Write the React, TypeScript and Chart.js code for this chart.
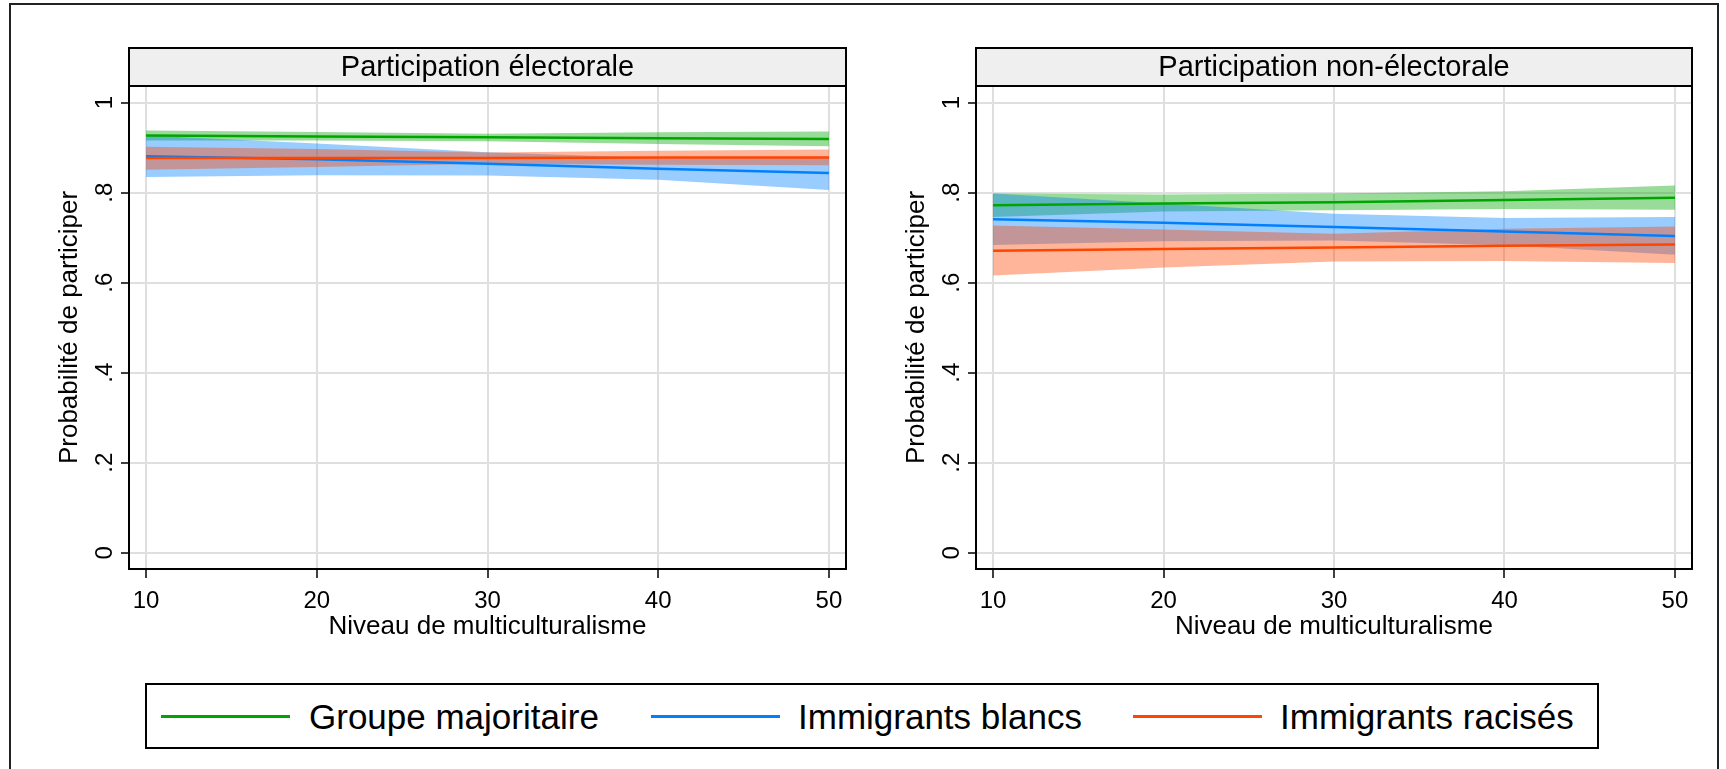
import React, { useEffect, useRef } from 'react';
import { Chart, registerables } from 'chart.js';

Chart.register(...registerables);

// ---------- data ----------
const xValues = [10, 20, 30, 40, 50];
const xTickLabels = ['10', '20', '30', '40', '50'];
const yTickValues = [0, 0.2, 0.4, 0.6, 0.8, 1];
const yTickLabels = ['0', '.2', '.4', '.6', '.8', '1'];
const seriesNames = ['Groupe majoritaire', 'Immigrants blancs', 'Immigrants racisés'];
const panelTitles = ['Participation électorale', 'Participation non-électorale'];
const xAxisTitle = 'Niveau de multiculturalisme';
const yAxisTitle = 'Probabilité de participer';

// Participation électorale
const elecMajEst = [0.927, 0.925, 0.923, 0.921, 0.919];
const elecMajLo = [0.916, 0.916, 0.914, 0.908, 0.903];
const elecMajHi = [0.938, 0.935, 0.931, 0.934, 0.936];
const elecBlaEst = [0.881, 0.874, 0.864, 0.853, 0.844];
const elecBlaLo = [0.835, 0.839, 0.838, 0.829, 0.806];
const elecBlaHi = [0.927, 0.909, 0.890, 0.877, 0.880];
const elecRacEst = [0.877, 0.877, 0.877, 0.878, 0.878];
const elecRacLo = [0.851, 0.857, 0.864, 0.862, 0.861];
const elecRacHi = [0.902, 0.897, 0.889, 0.893, 0.896];

// Participation non-électorale
const nonMajEst = [0.772, 0.776, 0.779, 0.784, 0.789];
const nonMajLo = [0.746, 0.758, 0.761, 0.764, 0.762];
const nonMajHi = [0.798, 0.796, 0.798, 0.803, 0.816];
const nonBlaEst = [0.741, 0.733, 0.724, 0.714, 0.704];
const nonBlaLo = [0.684, 0.692, 0.694, 0.683, 0.662];
const nonBlaHi = [0.798, 0.776, 0.753, 0.744, 0.746];
const nonRacEst = [0.671, 0.675, 0.678, 0.682, 0.685];
const nonRacLo = [0.616, 0.634, 0.647, 0.648, 0.644];
const nonRacHi = [0.727, 0.718, 0.709, 0.720, 0.725];

// ---------- styles ----------
const lineColors = ['rgb(0,165,0)', 'rgb(0,128,255)', 'rgb(255,69,0)'];
const bandColors = ['rgba(0,165,0,0.4)', 'rgba(0,128,255,0.4)', 'rgba(255,69,0,0.4)'];
const FONT = '"Liberation Sans", Arial, Helvetica, sans-serif';

Chart.defaults.font.family = FONT;
Chart.defaults.color = '#000';

type Series = { est: number[]; lo: number[]; hi: number[] };

const panels: { title: string; series: Series[]; left: number; width: number; padRight: number }[] = [
  {
    title: panelTitles[0],
    series: [
      { est: elecMajEst, lo: elecMajLo, hi: elecMajHi },
      { est: elecBlaEst, lo: elecBlaLo, hi: elecBlaHi },
      { est: elecRacEst, lo: elecRacLo, hi: elecRacHi },
    ],
    left: 0,
    width: 856,
    padRight: 10,
  },
  {
    title: panelTitles[1],
    series: [
      { est: nonMajEst, lo: nonMajLo, hi: nonMajHi },
      { est: nonBlaEst, lo: nonBlaLo, hi: nonBlaHi },
      { est: nonRacEst, lo: nonRacLo, hi: nonRacHi },
    ],
    left: 847,
    width: 860,
    padRight: 15,
  },
];

const CANVAS_H = 642;
const STRIP_TOP = 48;
const PLOT_TOP = 86;
const Y_SCALE_W = 129;
const X_SCALE_H = 73;

function stripPlugin(title: string) {
  return {
    id: 'strip',
    afterDraw(chart: any) {
      const { ctx, chartArea: a } = chart;
      ctx.save();
      ctx.strokeStyle = '#000';
      ctx.lineWidth = 2;
      ctx.strokeRect(a.left, a.top, a.right - a.left, a.bottom - a.top);
      ctx.fillStyle = '#efefef';
      ctx.fillRect(a.left, STRIP_TOP, a.right - a.left, a.top - STRIP_TOP);
      ctx.strokeRect(a.left, STRIP_TOP, a.right - a.left, a.top - STRIP_TOP);
      ctx.fillStyle = '#000';
      ctx.font = `29px ${FONT}`;
      ctx.textAlign = 'center';
      ctx.textBaseline = 'alphabetic';
      ctx.fillText(title, (a.left + a.right) / 2, 76);
      ctx.restore();
    },
  };
}

function Panel({ title, series, left, width, padRight }: { title: string; series: Series[]; left: number; width: number; padRight: number }) {
  const ref = useRef<HTMLCanvasElement | null>(null);
  useEffect(() => {
    if (!ref.current) return;
    const pts = (arr: number[]) => xValues.map((x, i) => ({ x, y: arr[i] }));
    const datasets: any[] = [];
    // lines (index 0 drawn last => on top)
    for (const k of [2, 1, 0]) {
      datasets.push({
        label: seriesNames[k],
        data: pts(series[k].est),
        borderColor: lineColors[k],
        borderWidth: 2.5,
        pointRadius: 0,
        fill: false,
        tension: 0,
      });
    }
    // confidence bands (green drawn first, then blue, then red)
    for (const k of [2, 1, 0]) {
      datasets.push({
        label: seriesNames[k] + ' hi',
        data: pts(series[k].hi),
        borderColor: 'rgba(0,0,0,0)',
        borderWidth: 0,
        pointRadius: 0,
        fill: '+1',
        backgroundColor: bandColors[k],
        tension: 0,
      });
      datasets.push({
        label: seriesNames[k] + ' lo',
        data: pts(series[k].lo),
        borderColor: 'rgba(0,0,0,0)',
        borderWidth: 0,
        pointRadius: 0,
        fill: false,
        tension: 0,
      });
    }
    const chart = new Chart(ref.current, {
      type: 'line',
      data: { datasets },
      plugins: [stripPlugin(title)],
      options: {
        animation: false,
        responsive: false,
        devicePixelRatio: 1,
        layout: { padding: { left: 0, top: PLOT_TOP, right: padRight, bottom: 0 } },
        plugins: { legend: { display: false }, tooltip: { enabled: false } },
        scales: {
          x: {
            type: 'linear',
            min: 9,
            max: 51,
            bounds: 'data',
            afterBuildTicks: (s: any) => {
              s.ticks = xValues.map((v) => ({ value: v }));
            },
            afterFit: (s: any) => {
              s.height = X_SCALE_H;
            },
            ticks: {
              font: { size: 24 },
              color: '#000',
              padding: 9,
              maxRotation: 0,
              autoSkip: false,
              callback: (_v: any, i: number) => xTickLabels[i],
            },
            grid: {
              color: 'rgb(223,223,223)',
              lineWidth: 2,
              drawTicks: true,
              tickLength: 9,
              tickColor: '#000',
              tickWidth: 1.5,
            },
            border: { display: true, color: '#000', width: 2 },
            title: {
              display: true,
              text: xAxisTitle,
              font: { size: 26 },
              color: '#000',
              padding: { top: 0, bottom: 0 },
            },
          },
          y: {
            type: 'linear',
            min: -0.036,
            max: 1.037,
            bounds: 'data',
            afterBuildTicks: (s: any) => {
              s.ticks = yTickValues.map((v) => ({ value: v }));
            },
            afterFit: (s: any) => {
              s.width = Y_SCALE_W;
            },
            ticks: {
              font: { size: 24 },
              color: '#000',
              padding: 6,
              minRotation: 90,
              maxRotation: 90,
              crossAlign: 'center',
              autoSkip: false,
              callback: (_v: any, i: number) => yTickLabels[i],
            },
            grid: {
              color: 'rgb(223,223,223)',
              lineWidth: 2,
              drawTicks: true,
              tickLength: 8,
              tickColor: '#000',
              tickWidth: 1.5,
            },
            border: { display: true, color: '#000', width: 2 },
            title: {
              display: true,
              text: yAxisTitle,
              font: { size: 26 },
              color: '#000',
              padding: { top: 54, bottom: 0 },
            },
          },
        },
      } as any,
    });
    return () => chart.destroy();
  }, [title, series, padRight]);
  return (
    <canvas
      ref={ref}
      width={width}
      height={CANVAS_H}
      style={{ position: 'absolute', left, top: 0, width, height: CANVAS_H }}
    />
  );
}

const legendLineX = [161, 651, 1133];
const legendTextX = [309, 798, 1280];

export default function App() {
  return (
    <div
      style={{
        position: 'fixed',
        left: 0,
        top: 0,
        width: 1726,
        height: 769,
        overflow: 'hidden',
        background: '#fff',
        fontFamily: FONT,
      }}
    >
      <div
        style={{
          position: 'absolute',
          left: 9,
          top: 3,
          width: 1710,
          height: 800,
          borderLeft: '2px solid #222',
          borderTop: '2px solid #222',
          borderRight: '2px solid #222',
          boxSizing: 'border-box',
        }}
      />
      {panels.map((p, i) => (
        <Panel key={i} title={p.title} series={p.series} left={p.left} width={p.width} padRight={p.padRight} />
      ))}
      <div
        style={{
          position: 'absolute',
          left: 145,
          top: 683,
          width: 1454,
          height: 66,
          border: '2px solid #000',
          boxSizing: 'border-box',
        }}
      />
      {seriesNames.map((name, i) => (
        <React.Fragment key={name}>
          <div
            style={{
              position: 'absolute',
              left: legendLineX[i],
              top: 715,
              width: 129,
              height: 3,
              background: lineColors[i],
            }}
          />
          <div
            style={{
              position: 'absolute',
              left: legendTextX[i],
              top: 697,
              fontSize: 35,
              lineHeight: '40px',
              whiteSpace: 'nowrap',
              color: '#000',
            }}
          >
            {name}
          </div>
        </React.Fragment>
      ))}
    </div>
  );
}
